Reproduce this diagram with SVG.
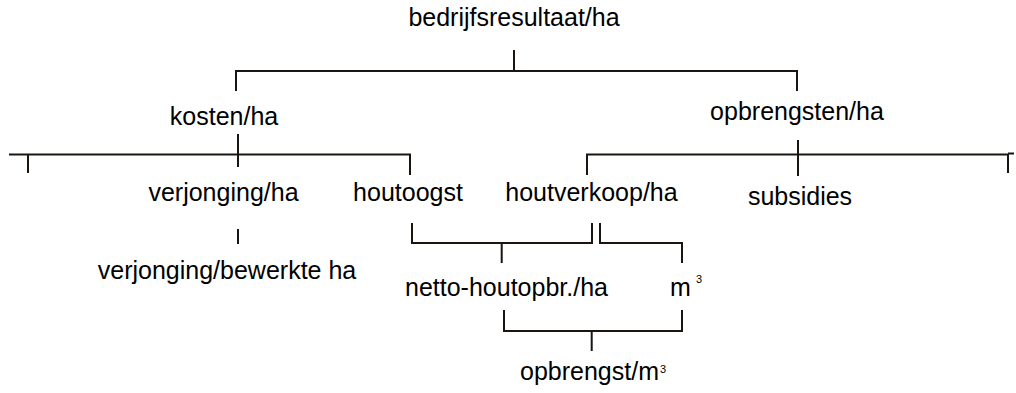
<svg xmlns="http://www.w3.org/2000/svg" width="1016" height="393" viewBox="0 0 1016 393">
<style>
text{font-family:"Liberation Sans",Arial,sans-serif;font-size:25px;fill:#000}
.c{text-anchor:middle}
.sup{font-size:11px}
.ln{stroke:#1a1511;stroke-width:2;fill:none}
</style>
<rect width="1016" height="393" fill="#fff"/>
<g id="connectors" class="ln">
<path d="M514,50V71M236,91V71H797V91"/>
<path d="M238,134V167M9,154.5H410V175M28,154.5V173"/>
<path d="M798,140V176M587,175V154.5H1008V173M1008,153.5H1014"/>
<path d="M238,229V244"/>
<path d="M412,223V243H592V223M501.7,243V263"/>
<path d="M600,223V243H682V263"/>
<path d="M504,310V331H682V310M591.7,331V351"/>
</g>
<g id="n_bedrijfsresultaat"><text class="c" x="514" y="26">bedrijfsresultaat/ha</text></g>
<g id="n_kosten"><text class="c" x="224" y="125">kosten/ha</text></g>
<g id="n_opbrengsten"><text class="c" x="797" y="120">opbrengsten/ha</text></g>
<g id="n_verjonging"><text class="c" x="223.5" y="201">verjonging/ha</text></g>
<g id="n_houtoogst"><text class="c" x="408" y="201">houtoogst</text></g>
<g id="n_houtverkoop"><text class="c" x="591.5" y="201">houtverkoop/ha</text></g>
<g id="n_subsidies"><text class="c" x="800" y="205">subsidies</text></g>
<g id="n_verjonging_bewerkt"><text class="c" x="227" y="279">verjonging/bewerkte ha</text></g>
<g id="n_netto"><text class="c" x="506.5" y="296">netto-houtopbr./ha</text></g>
<g id="n_m3"><text x="670" y="296">m</text><text class="sup" x="696" y="283">3</text></g>
<g id="n_opbrengst_m3"><text x="520" y="380">opbrengst/m</text><text class="sup" x="660" y="373">3</text></g>
</svg>
